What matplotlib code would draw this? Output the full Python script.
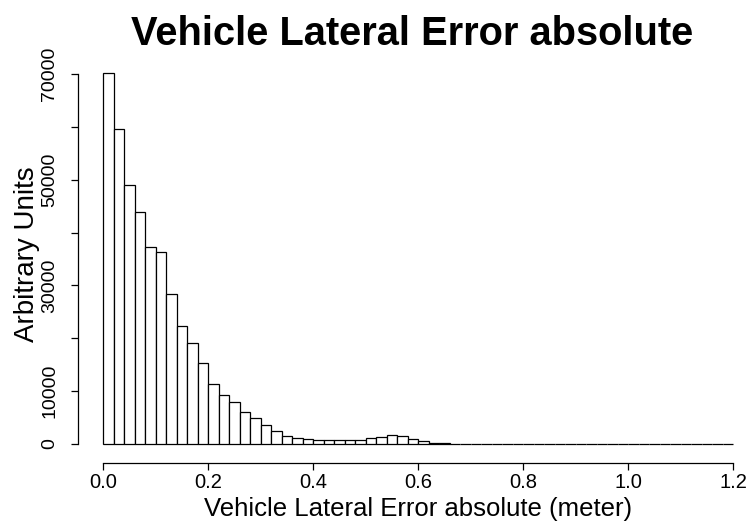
import matplotlib
matplotlib.use("Agg")
import matplotlib.pyplot as plt
import numpy as np

plt.rcParams['font.family'] = ['Liberation Sans', 'DejaVu Sans']

# Histogram of absolute lateral error, 0.02 m bins from 0 to 1.2 m
bin_width = 0.02
bin_edges = np.round(np.arange(0, 1.2 + bin_width / 2, bin_width), 4)
counts = [
    70200, 59500, 49000, 43800, 37300, 36400, 28400, 22300, 19200, 15400,
    11300, 9200, 8000, 6000, 4980, 3500, 2380, 1580, 1200, 950,
    820, 820, 690, 690, 820, 1070, 1390, 1700, 1510, 1010,
    500, 250, 120, 70, 50, 40, 35, 30, 28, 25,
    22, 20, 18, 16, 15, 14, 12, 10, 10, 9,
    8, 7, 6, 5, 5, 4, 3, 0, 3, 2,
]
x_ticks = [0.0, 0.2, 0.4, 0.6, 0.8, 1.0, 1.2]
x_tick_labels = ["0.0", "0.2", "0.4", "0.6", "0.8", "1.0", "1.2"]
y_ticks = [0, 10000, 20000, 30000, 40000, 50000, 60000, 70000]
# every other y tick is left unlabelled
y_tick_labels = ["0", "10000", "", "30000", "", "50000", "", "70000"]

title = "Vehicle Lateral Error absolute"
x_label = "Vehicle Lateral Error absolute (meter)"
y_label = "Arbitrary Units"

W, H = 748, 525
fig = plt.figure(figsize=(W / 100, H / 100), dpi=100)

# plot region in pixel coordinates (from top-left)
x0_px, x1_px = 77.8, 758.2
y_base_px, y_top_px = 444.0, 63.4
ax_w, ax_h = x1_px - x0_px, y_base_px - y_top_px
ax = fig.add_axes([x0_px / W, (H - y_base_px) / H, ax_w / W, ax_h / H])
ax.set_xlim(-0.048, 1.248)
ax.set_ylim(0, 72000)

ax.bar(bin_edges[:-1], counts, width=bin_width, align='edge',
       facecolor='white', edgecolor='black', linewidth=0.9, clip_on=False)

for s in ('top', 'right'):
    ax.spines[s].set_visible(False)
ax.spines['left'].set_bounds(0, 70000)
ax.spines['bottom'].set_bounds(0, 1.2)
ax.spines['bottom'].set_position(('outward', 14))
for s in ('left', 'bottom'):
    ax.spines[s].set_linewidth(0.9)

ax.set_xticks(x_ticks)
ax.set_xticklabels(x_tick_labels, fontsize=14.5)
ax.set_yticks(y_ticks)
ax.set_yticklabels(y_tick_labels, fontsize=14, rotation=90, va='center')
ax.tick_params(axis='both', length=5, width=0.9, direction='out')
ax.tick_params(axis='x', pad=2)
ax.tick_params(axis='y', pad=9)

ax.set_xlabel(x_label, fontsize=18.5)
ax.xaxis.set_label_coords((418 - x0_px) / ax_w, (y_base_px - 497) / ax_h)
ax.set_ylabel(y_label, fontsize=20)
ax.yaxis.set_label_coords((40 - x0_px) / ax_w, (y_base_px - 254) / ax_h)

fig.text(412 / W, 1 - 34 / H, title, fontsize=28.7,
         fontweight='bold', ha='center', va='center')

fig.savefig("out.png", dpi=100)
